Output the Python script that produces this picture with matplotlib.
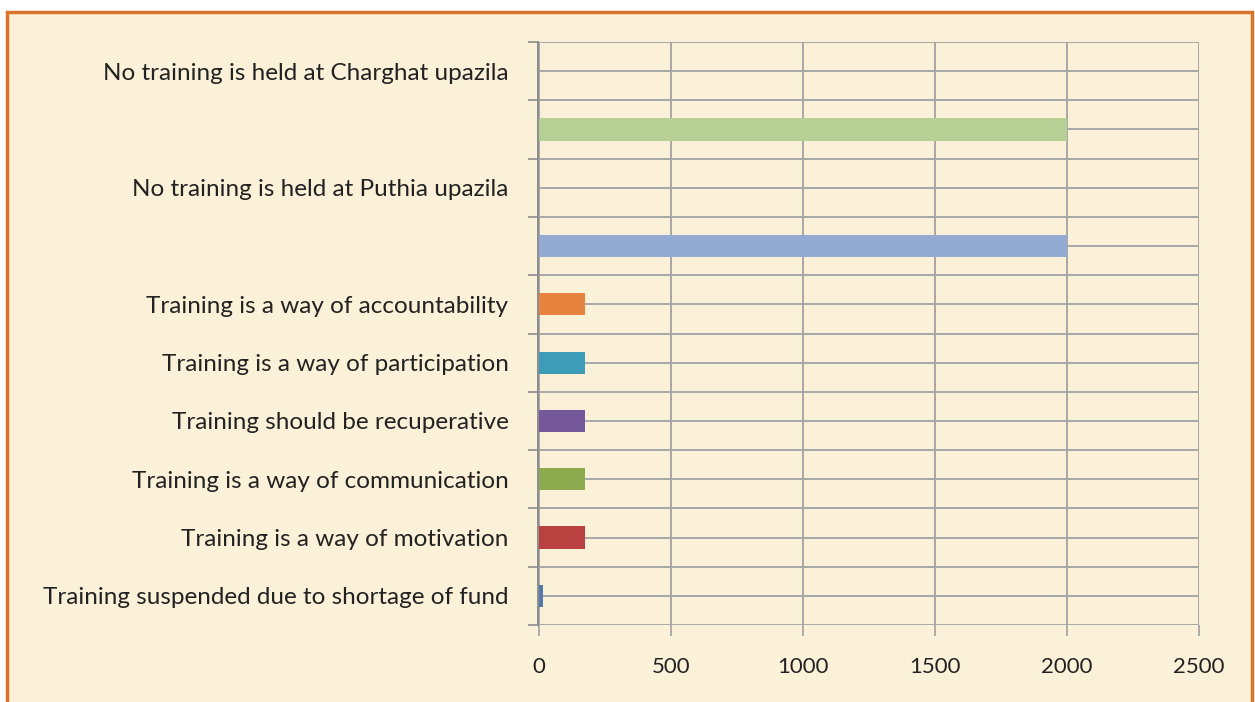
import numpy as np
import matplotlib
matplotlib.use('Agg')
import matplotlib.pyplot as plt
from matplotlib.patches import Rectangle

# categories listed bottom to top
categories = [
    'Training suspended due to shortage of fund',
    'Training is a way of motivation',
    'Training is a way of communication',
    'Training should be recuperative',
    'Training is a way of participation',
    'Training is a way of accountability',
    '',
    'No training is held at Puthia upazila',
    '',
    'No training is held at Charghat upazila',
]
values = [15, 175, 175, 175, 175, 175, 2000, 0, 2000, 0]
colors = ['#5479AE', '#B9413F', '#8CAA4E', '#75589A', '#3D9DB8',
          '#E6843F', '#93AAD3', '#9BBB59', '#B6CF94', '#4F81BD']
xticks = [0, 500, 1000, 1500, 2000, 2500]

bg = '#FBF0D8'
plt.rcParams['font.family'] = ['Lato', 'DejaVu Sans']

fig = plt.figure(figsize=(12.55, 7.02), dpi=100)
fig.patch.set_facecolor('white')
# parchment panel with orange frame, kept behind the axes
fig.patches.append(Rectangle((7 / 1255, -0.05), 1245 / 1255, 1 - 12 / 702 + 0.05,
                             transform=fig.transFigure, facecolor=bg,
                             edgecolor='#D9722A', linewidth=2.5, zorder=-10))

ax = fig.add_axes([539 / 1255, 1 - 625 / 702, 660 / 1255, 583 / 702])
ax.set_facecolor('none')

y = np.arange(len(categories))
ax.barh(y, values, height=0.38, color=colors, zorder=3)

ax.set_xlim(0, 2500)
ax.set_ylim(-0.5, len(categories) - 0.5)
ax.set_xticks(xticks)
ax.set_xticklabels([str(t) for t in xticks])
ax.set_yticks(y)
ax.set_yticklabels(categories)
ax.set_yticks(np.arange(len(categories) + 1) - 0.5, minor=True)

ax.tick_params(axis='y', which='major', length=0, pad=21, labelsize=17.5, labelcolor='#222222')
ax.tick_params(axis='y', which='minor', length=7, width=1.2, color='#8C8C8C', direction='out')
ax.tick_params(axis='x', length=8, width=1.2, color='#A0A0A0', pad=15, labelsize=16,
               labelcolor='#222222')

grid_kw = dict(color='#A8A8A8', linewidth=1.4, zorder=1)
ax.grid(True, axis='x', **grid_kw)
ax.grid(True, axis='y', which='both', **grid_kw)
ax.set_axisbelow(True)

for side in ['top', 'right', 'bottom']:
    ax.spines[side].set_visible(False)
ax.spines['left'].set_color('#8C8C8C')
ax.spines['left'].set_linewidth(1.4)
ax.spines['left'].set_position(('outward', 1))

fig.savefig('out.png', dpi=100, facecolor=fig.get_facecolor())
